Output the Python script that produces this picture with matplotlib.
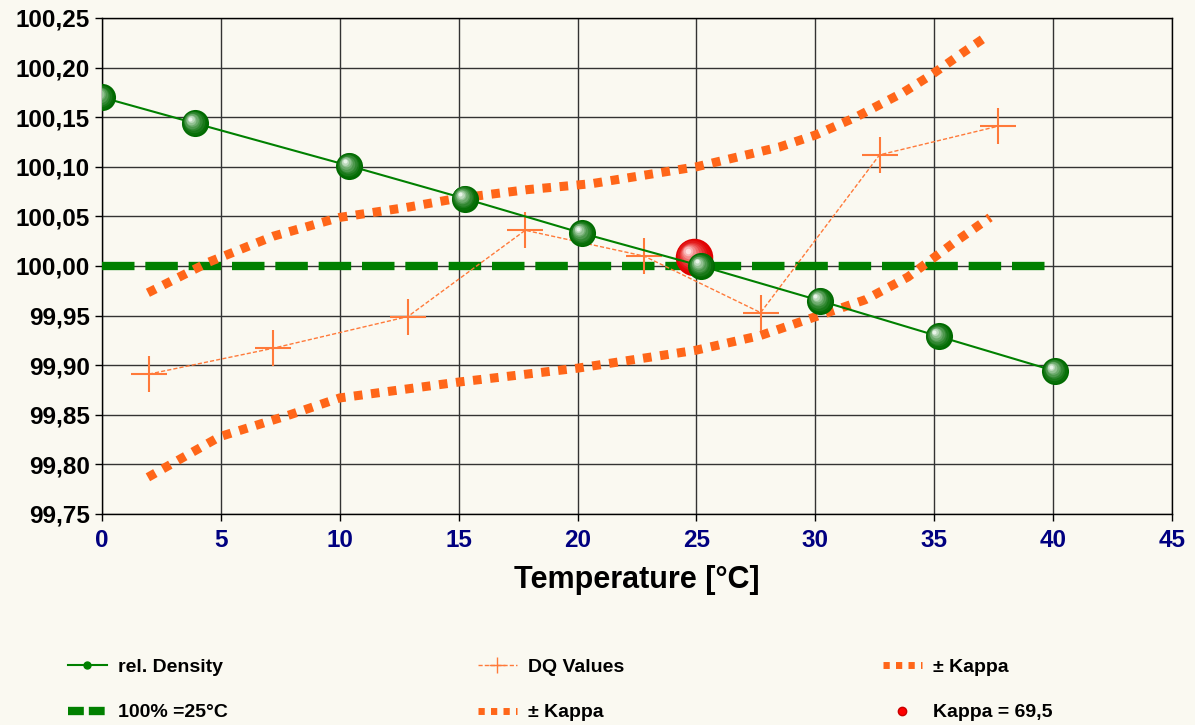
import matplotlib
matplotlib.use("Agg")
import numpy as np
import matplotlib.pyplot as plt
from matplotlib.lines import Line2D
from matplotlib import transforms
from matplotlib.colors import to_rgb

plt.rcParams["font.family"] = ["Liberation Sans", "DejaVu Sans"]
plt.rcParams["font.weight"] = "bold"

# rel. density (green spheres)
dens_t = [0.0, 3.9, 10.4, 15.25, 20.2, 25.2, 30.2, 35.2, 40.1]
dens_v = [100.170, 100.144, 100.101, 100.068, 100.033, 100.000, 99.965, 99.929, 99.894]

# DQ values (crosses)
dq_t = [1.97, 7.18, 12.86, 17.8, 22.8, 27.7, 32.7, 37.7]
dq_v = [99.891, 99.917, 99.949, 100.036, 100.010, 99.953, 100.112, 100.141]

# +/- kappa band
kup_t = [1.93, 4.5, 7.2, 10.0, 12.8, 14.9, 17.9, 20.6, 25.0, 28.5, 30.0, 31.7, 33.7, 34.9, 36.2, 37.3]
kup_v = [99.973, 100.004, 100.030, 100.049, 100.059, 100.068, 100.077, 100.083, 100.100,
         100.120, 100.132, 100.150, 100.175, 100.193, 100.215, 100.233]
klo_t = [1.93, 4.96, 7.9, 10.0, 15.0, 20.0, 24.96, 27.7, 29.9, 32.1, 33.9, 35.8, 37.35]
klo_v = [99.787, 99.828, 99.850, 99.867, 99.883, 99.897, 99.915, 99.930, 99.948, 99.966,
         99.989, 100.023, 100.049]

# 100% reference line at 25 C
ref_t = [0, 40]
ref_v = [100.0, 100.0]

# kappa point
kap_t = [24.9]
kap_v = [100.009]

BG = "#FAF9F1"
GREEN = "#008000"
ORANGE = "#FF6619"
DQ = "#FF7A3A"

fig = plt.figure(figsize=(11.95, 7.25), dpi=100, facecolor=BG)
ax = fig.add_axes([102 / 1195, 1 - 514 / 725, (1172 - 102) / 1195, (514 - 18) / 725])
ax.set_facecolor(BG)


def spheres(x, y, size, dark, light, z, n=9):
    # fake 3d ball: shrinking, lighter circles drifting to the upper left
    c0, c1 = np.array(to_rgb(dark)), np.array(to_rgb(light))
    for i in range(n):
        f = i / (n - 1)
        frac = 1.0 - 0.85 * f
        off = size * 0.17 * f
        col = c0 + (c1 - c0) * f ** 1.6
        tr = transforms.offset_copy(ax.transData, fig=fig, x=-off, y=off, units="points")
        ax.plot(x, y, ls="none", marker="o", ms=size * frac, mfc=col, mec="none",
                transform=tr, zorder=z)


ax.plot(ref_t, ref_v, color=GREEN, lw=6, dashes=(3.9, 1.3), solid_capstyle="butt",
        dash_capstyle="butt", zorder=3)
ax.plot(kup_t, kup_v, color=ORANGE, lw=6.5, dashes=(0.95, 0.95), dash_capstyle="butt", zorder=4)
ax.plot(klo_t, klo_v, color=ORANGE, lw=6.5, dashes=(0.95, 0.95), dash_capstyle="butt", zorder=4)
ax.plot(dq_t, dq_v, color=DQ, lw=1, dashes=(3, 1.5), zorder=5)
ax.plot(dq_t, dq_v, ls="none", marker="+", ms=26, mew=1.5, color=DQ, zorder=5)
spheres(kap_t, kap_v, 27, "#E00000", "#FFE0E0", 6)
ax.plot(dens_t, dens_v, color=GREEN, lw=1.5, zorder=7)
spheres(dens_t, dens_v, 19.5, "#006A00", "#E8F4E8", 8)

ax.set_xlim(0, 45)
ax.set_ylim(99.75, 100.25)
xt = list(range(0, 46, 5))
yt = [99.75 + 0.05 * i for i in range(11)]
ax.set_xticks(xt)
ax.set_yticks(yt)
ax.set_yticklabels([f"{v:.2f}".replace(".", ",") for v in yt])
ax.tick_params(axis="y", labelsize=17.5, length=5, width=1, pad=4, labelcolor="black")
ax.tick_params(axis="x", labelsize=17.5, length=5, width=1, pad=6, labelcolor="#000080")
ax.grid(True, color="#333333", lw=1)
ax.set_axisbelow(True)
for s in ax.spines.values():
    s.set_color("black")
    s.set_linewidth(1)
ax.set_xlabel("Temperature [°C]", fontsize=22, fontweight="bold", labelpad=9)

handles = [
    [Line2D([], [], color=GREEN, lw=1.5, marker="o", ms=5, mfc=GREEN, mec=GREEN),
     Line2D([], [], color=GREEN, lw=6, dashes=(1.9, 0.6))],
    [Line2D([], [], color=DQ, lw=1, dashes=(3, 1.5), marker="+", ms=12, mew=1),
     Line2D([], [], color=ORANGE, lw=5, dashes=(0.9, 0.9))],
    [Line2D([], [], color=ORANGE, lw=5, dashes=(0.9, 0.9)),
     Line2D([], [], ls="none", marker="o", ms=6, mfc="red", mec="#C80000")],
]
labels = [["rel. Density", "100% =25°C"], ["DQ Values", "± Kappa"], ["± Kappa", "Kappa = 69,5"]]
xs = [68 / 1195, 478 / 1195, 883 / 1195]
for h, l, x0 in zip(handles, labels, xs):
    fig.legend(h, l, loc="upper left", bbox_to_anchor=(x0, 1 - 658 / 725), frameon=False,
               borderpad=0, borderaxespad=0, handlelength=2.0, handletextpad=0.55,
               labelspacing=1.45, prop={"size": 14, "weight": "bold"})

fig.savefig("out.png", dpi=100, facecolor=BG)
